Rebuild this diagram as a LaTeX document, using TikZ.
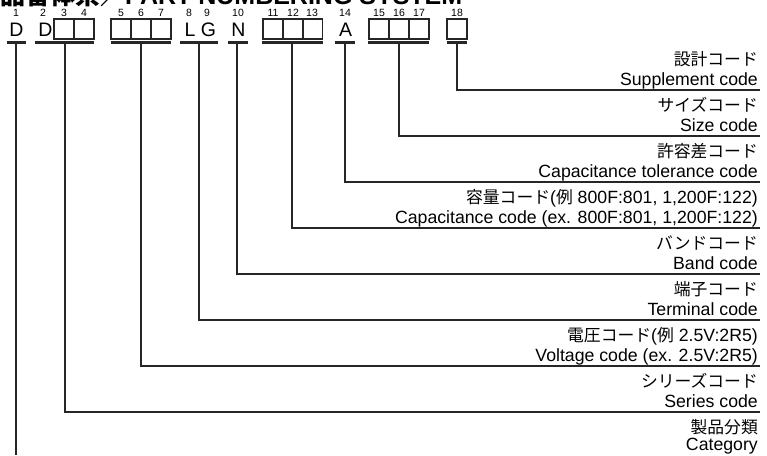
\documentclass[tikz,border=0pt]{standalone}
\usepackage{fontspec}
\setmainfont{Liberation Sans}
\newfontfamily\jpfont{Noto Sans CJK JP}
\newcommand{\jpt}[1]{{\fontsize{16.8}{17}\selectfont\jpfont #1}}
\begin{document}
\begin{tikzpicture}[x=1pt,y=-1pt,
  conn/.style={line width=1.1pt, draw=black!85},
  uline/.style={line width=2.6pt, draw=black!85},
  cbox/.style={draw=black!85, line width=1.1pt, minimum width=20pt, minimum height=20pt, inner sep=0pt, outer sep=0pt},
  digit/.style={font=\fontsize{10.5}{11}\selectfont, anchor=base, inner sep=0pt},
  letter/.style={font=\fontsize{19.5}{20}\selectfont, anchor=base, inner sep=0pt},
  jp/.style={font=\fontsize{17.7}{18}\selectfont, anchor=base east, inner sep=0pt},
  en/.style={font=\fontsize{17.7}{18}\selectfont, anchor=base east, inner sep=0pt}]
\useasboundingbox (0,0) rectangle (767,455);
% title (cut off at top)
\begin{scope}
\clip (0,0) rectangle (767,455);
\node[anchor=base west, inner sep=0pt, font=\bfseries\fontsize{25}{25}\selectfont] (title) at (0,4.5) {{\jpfont 品番体系／}PART NUMBERING SYSTEM};
\end{scope}
% digits
\foreach \n/\x in {1/16,2/43,3/64,4/84,5/121,6/141,7/161,8/189,9/207,10/238,11/273,12/293,13/312,14/345,15/379,16/399,17/419,18/457}
  \node[digit] (d\n) at (\x,16.5) {\n};
% letters
\node[letter] (l1) at (16.5,36.5) {D};
\node[letter] (l2) at (45.5,36.5) {D};
\node[letter] (l8) at (190,36.5) {L};
\node[letter] (l9) at (208.5,36.5) {G};
\node[letter] (l10) at (238.5,36.5) {N};
\node[letter] (l14) at (345.5,36.5) {A};
% boxes
\foreach \n/\x in {3/64,4/84,5/121,6/141,7/161,11/273,12/293,13/312.7,15/379,16/399,17/419,18/457}
  \node[cbox] (b\n) at (\x,29) {};
% underlines
\draw[uline] (7,42.7) -- (26,42.7);
\draw[uline] (35,42.7) -- (94,42.7);
\draw[uline] (111,42.7) -- (171,42.7);
\draw[uline] (180,42.7) -- (218,42.7);
\draw[uline] (228,42.7) -- (248,42.7);
\draw[uline] (262,42.7) -- (323,42.7);
\draw[uline] (335,42.7) -- (355,42.7);
\draw[uline] (368,42.7) -- (429,42.7);
\draw[uline] (447,42.7) -- (467,42.7);
% underline taps
\coordinate (u1) at (16,42.7);
\coordinate (u2) at (65,42.7);
\coordinate (u5) at (141,42.7);
\coordinate (u8) at (199,42.7);
\coordinate (u10) at (237,42.7);
\coordinate (u11) at (292,42.7);
\coordinate (u14) at (345,42.7);
\coordinate (u15) at (399,42.7);
\coordinate (u18) at (457,42.7);
% line ends
\coordinate (e18) at (760,90);
\coordinate (e15) at (760,136);
\coordinate (e14) at (760,182);
\coordinate (e11) at (760,228);
\coordinate (e10) at (760,274);
\coordinate (e8) at (760,320);
\coordinate (e5) at (760,366);
\coordinate (e2) at (760,412);
\coordinate (e1) at (16,455);
% connectors
\foreach \k in {18,15,14,11,10,8,5,2} \draw[conn] (u\k) |- (e\k);
\draw[conn] (u1) -- (e1);
% labels
\node[jp] (j18) at (758,65) {\jpt{設計コード}};
\node[en] (t18) at (758,85.5) {Supplement code};
\node[jp] (j15) at (758,111) {\jpt{サイズコード}};
\node[en] (t15) at (758,131.5) {Size code};
\node[jp] (j14) at (758,157) {\jpt{許容差コード}};
\node[en] (t14) at (758,177.5) {Capacitance tolerance code};
\node[jp] (j11) at (758,203) {\jpt{容量コード}(\jpt{例} 800F:801, 1,200F:122)};
\node[en] (t11) at (758,223.5) {Capacitance code (ex. 800F:801, 1,200F:122)};
\node[jp] (j10) at (758,249) {\jpt{バンドコード}};
\node[en] (t10) at (758,269.5) {Band code};
\node[jp] (j8) at (758,295) {\jpt{端子コード}};
\node[en] (t8) at (758,315.5) {Terminal code};
\node[jp] (j5) at (758,341) {\jpt{電圧コード}(\jpt{例} 2.5V:2R5)};
\node[en] (t5) at (758,361.5) {Voltage code (ex. 2.5V:2R5)};
\node[jp] (j2) at (758,387) {\jpt{シリーズコード}};
\node[en] (t2) at (758,407.5) {Series code};
\node[jp] (j1) at (758,433) {\jpt{製品分類}};
\node[en] (t1) at (758,450) {Category};
\end{tikzpicture}
\end{document}
